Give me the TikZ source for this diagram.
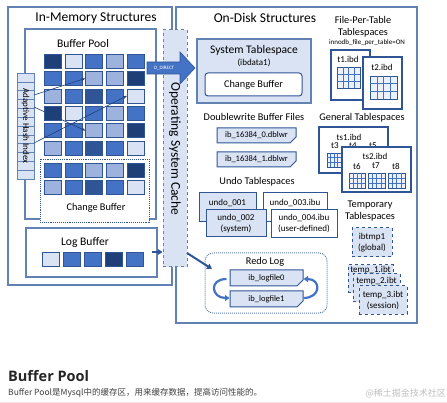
\documentclass[tikz,border=0pt]{standalone}
\usepackage[svgnames]{xcolor}
\usepackage{fontspec}
\setmainfont{Carlito}
\newfontfamily\cjk{Noto Sans CJK SC}
\newfontfamily\headfont{Open Sans}
\usepackage{tikz}
\usetikzlibrary{shapes.misc,arrows.meta}
\definecolor{navy}{HTML}{1F3F78}
\definecolor{pale}{HTML}{DAE3F3}
\definecolor{mid}{HTML}{4472C4}
\definecolor{soft}{HTML}{9DB3DE}
\definecolor{deep}{HTML}{2F5597}
\definecolor{frame}{HTML}{6382B4}
\tikzstyle{area}=[draw=frame,line width=1.2pt,inner sep=0pt]
\tikzstyle{maintitle}=[font=\fontsize{13.5}{14}\selectfont,inner sep=0pt]
\tikzstyle{boxtitle}=[font=\fontsize{11.6}{12}\selectfont,inner sep=0pt]
\tikzstyle{seclabel}=[font=\fontsize{10.3}{12}\selectfont,inner sep=0pt]
\tikzstyle{filelabel}=[font=\fontsize{9}{11}\selectfont,inner sep=0pt,align=center]
\tikzstyle{tinylabel}=[font=\fontsize{7}{8}\selectfont,inner sep=0pt]
\tikzstyle{bpcell}=[draw=deep,line width=0.5pt,minimum width=17pt,minimum height=14pt,inner sep=0pt]
\tikzstyle{dfile}=[chamfered rectangle,chamfered rectangle corners=south east,chamfered rectangle xsep=3pt,chamfered rectangle ysep=3pt,draw=deep,fill=pale,line width=1pt,inner sep=0pt,font=\fontsize{8.5}{10}\selectfont]
\tikzstyle{undobox}=[draw=deep,line width=1pt,inner sep=0pt,align=center,font=\fontsize{9}{11}\selectfont]
\tikzstyle{ibd}=[draw=deep,fill=white,line width=1.3pt,inner sep=0pt]
\tikzstyle{tmpfile}=[draw=deep,dashed,fill=pale,line width=1pt,inner sep=0pt,align=center,font=\fontsize{9}{11}\selectfont]
\tikzstyle{hashlink}=[navy,line width=0.6pt,-{Stealth[length=4pt,width=3pt]}]
\tikzstyle{bigarrow}=[deep,line width=2pt,-{Triangle[length=5pt,width=6pt]}]
\tikzstyle{cyclearrow}=[mid,line width=2.2pt,-{Triangle[length=4.5pt,width=6pt]}]
\newcommand{\tablegrid}[4]{%
  \draw[deep,fill=pale!50,line width=0.8pt] (#1,#2) rectangle ++(#3,#4);
  \foreach \k in {1,2,3} \draw[mid,line width=0.5pt] ({#1+#3*\k/4},#2) -- ++(0,#4);
  \foreach \k in {1,2} \draw[mid,line width=0.5pt] (#1,{#2+#4*\k/3}) -- ++(#3,0);
}

\begin{document}
\begin{tikzpicture}[x=1pt,y=-1pt]
\useasboundingbox (0,0) rectangle (447,403);
\fill[white] (0,0) rectangle (447,403);

% in-memory side
\node[area,minimum width=164pt,minimum height=278pt] (inmem) at (90,146) {};
\node[maintitle] (inmemtitle) at (96,18) {In-Memory Structures};
\node[area,minimum width=131pt,minimum height=190pt] (bufpool) at (90.5,124) {};
\node[boxtitle] (bufpooltitle) at (83,44) {Buffer Pool};
\node[draw=deep,densely dotted,fill=white,line width=0.9pt,minimum width=109pt,minimum height=63pt] (chbuf) at (94.5,190.5) {};
\node[seclabel] (chbuftitle) at (96,208) {Change Buffer};
\foreach \row/\y/\cols in {1/61/{navy,pale,mid,soft,mid}, 2/78.4/{mid,mid,soft,soft,navy},
    3/95.8/{soft,mid,deep,mid,pale}, 4/113.2/{navy,pale,mid,soft,mid},
    5/130.6/{mid,mid,soft,soft,navy}, 6/148/{soft,mid,deep,mid,pale},
    7/170/{mid,mid,soft,soft,navy}, 8/187.4/{soft,mid,deep,mid,pale}}
  \foreach \c [count=\col] in \cols
    \node[bpcell,fill=\c] (bp-\row-\col) at ({31.7+20.8*\col},\y) {};

% adaptive hash index
\node[draw=frame,fill=pale,line width=0.8pt,minimum width=17pt,minimum height=106pt,inner sep=0pt] (ahi) at (25.5,126) {};
\foreach \k in {1,...,11}
  \draw[frame,line width=0.4pt] (17,{73+8.833*\k}) -- ++(17,0);
\node[filelabel,rotate=-90] (ahitext) at (25.5,126) {Adaptive Hash Index};
\coordinate (h1) at (34,95);
\coordinate (h2) at (34,107);
\coordinate (h3) at (34,143);
\draw[hashlink] (h1) -- (bp-2-3.west);
\draw[hashlink] (h2) -- (bp-5-3.west);
\draw[hashlink] (h3) -- (bp-3-5.west);

% log buffer
\node[area,minimum width=131pt,minimum height=49pt] (logbuf) at (91.5,252.5) {};
\node[boxtitle] (logbuftitle) at (85,242) {Log Buffer};
\foreach \c [count=\col] in {pale,mid,mid,navy,mid}
  \node[bpcell,fill=\c] (lb-\col) at ({29.5+21*\col},259) {};

% on-disk side
\node[area,minimum width=241pt,minimum height=316pt] (ondisk) at (296.5,165) {};
\node[maintitle] (ondisktitle) at (265,18) {On-Disk Structures};

% os cache
\node[draw=frame,dashed,fill=pale,line width=1pt,minimum width=24pt,minimum height=237pt] (cache) at (175,148.5) {};
\node[maintitle,rotate=-90] (cachetext) at (175,149) {Operating System Cache};
\draw[fill=mid,draw=deep,line width=0.6pt] (147,62) -- (180,62) -- (180,52) -- (195,68) -- (180,84) -- (180,74) -- (147,74) -- cycle;
\node[inner sep=0pt,text=white,font=\fontsize{5}{6}\selectfont] (odirect) at (164,68) {O\_DIRECT};
\coordinate (lbout) at (152,252);
\draw[bigarrow,line width=1.5pt] (lbout) -- (lbout -| cache.west);

% system tablespace
\node[area,fill=pale,line width=1.3pt,minimum width=114pt,minimum height=64pt] (systs) at (254,71) {};
\node[boxtitle] (syststitle) at (254,50) {System Tablespace};
\node[filelabel] (ibdata) at (254,63) {(ibdata1)};
\node[seclabel,draw=deep,fill=white,rounded corners=3pt,line width=1pt,minimum width=97pt,minimum height=23pt] (syscb) at (253.5,84.5) {Change Buffer};

% doublewrite
\node[seclabel] (dwtitle) at (254,117) {Doublewrite Buffer Files};
\node[dfile,minimum width=79pt,minimum height=15pt] (dw0) at (256.5,135.5) {ib\_16384\_0.dblwr};
\node[dfile,minimum width=79pt,minimum height=15pt] (dw1) at (256.5,159.5) {ib\_16384\_1.dblwr};

% undo
\node[seclabel] (undotitle) at (257,182) {Undo Tablespaces};
\node[undobox,fill=pale,minimum width=57pt,minimum height=29pt] (undo1) at (227.5,207.5) {};
\node[filelabel] (undo1name) at (227.5,203) {undo\_001};
\node[undobox,fill=white,minimum width=64pt,minimum height=29pt] (undo3) at (295,207.5) {};
\node[filelabel] (undo3name) at (295,203) {undo\_003.ibu};
\node[undobox,fill=pale,minimum width=60pt,minimum height=27pt] (undo2) at (236,223.5) {undo\_002\\(system)};
\node[undobox,fill=white,minimum width=66pt,minimum height=28pt] (undo4) at (304,224) {undo\_004.ibu\\(user-defined)};

% redo
\node[draw=frame,densely dotted,rounded corners=8pt,line width=1pt,minimum width=122pt,minimum height=60pt] (redo) at (266,283) {};
\node[seclabel] (redotitle) at (265,262) {Redo Log};
\node[dfile,minimum width=73pt,minimum height=16pt] (lf0) at (266.5,278) {ib\_logfile0};
\node[dfile,minimum width=73pt,minimum height=16pt] (lf1) at (266.5,299) {ib\_logfile1};
\draw[cyclearrow] ([xshift=-3pt,yshift=-1pt]lf0.west) to[out=180,in=180,looseness=2.4] ([yshift=1pt]lf1.west);
\draw[cyclearrow] ([yshift=1pt]lf1.east) to[out=0,in=0,looseness=2.4] ([yshift=-1pt]lf0.east);
\coordinate (cacheout) at (187,253);
\coordinate (redoin) at (212,269);
\draw[bigarrow] (cacheout) -- (redoin);

% file-per-table
\node[seclabel] (fpt1) at (363,20) {File-Per-Table};
\node[seclabel] (fpt2) at (363,33) {Tablespaces};
\node[tinylabel] (fptopt) at (367,43) {innodb\_file\_per\_table=ON};
\node[ibd,minimum width=39pt,minimum height=50pt] (t1) at (350.5,75) {};
\node[filelabel] (t1name) at (348,59) {t1.ibd};
\tablegrid{337}{67}{23}{21}
\node[ibd,minimum width=39pt,minimum height=52pt] (t2) at (382.5,83) {};
\node[filelabel] (t2name) at (382,67) {t2.ibd};
\tablegrid{370}{76}{27}{23}

% general
\node[seclabel] (gentitle) at (362,118) {General Tablespaces};
\node[ibd,minimum width=69pt,minimum height=46pt] (ts1) at (353.5,150) {};
\node[filelabel] (ts1name) at (349,137) {ts1.ibd};
\foreach \place/\name in {(335,146)/t3, (353,146)/t4, (373,146)/t5}
  \node[filelabel] (\name) at \place {\name};
\tablegrid{327}{153}{14}{14}
\node[ibd,minimum width=69pt,minimum height=45pt] (ts2) at (376.5,169.5) {};
\node[filelabel] (ts2name) at (375,156) {ts2.ibd};
\foreach \place/\name in {(357,166)/t6, (376,166)/t7, (396,166)/t8}
  \node[filelabel] (\name) at \place {\name};
\tablegrid{349}{173}{16}{15}
\tablegrid{368}{173}{17}{15}
\tablegrid{388}{173}{17}{15}

% temporary
\node[seclabel] (tmptitle1) at (370,205) {Temporary};
\node[seclabel] (tmptitle2) at (370,217) {Tablespaces};
\node[tmpfile,minimum width=40pt,minimum height=29pt] (ibtmp) at (372,242.5) {ibtmp1\\(global)};
\node[tmpfile,minimum width=45pt,minimum height=28pt] (tmp1) at (370.5,279) {};
\node[filelabel] (tmp1name) at (370.5,270) {temp\_1.ibt};
\node[tmpfile,minimum width=47pt,minimum height=28pt] (tmp2) at (376.5,288) {};
\node[filelabel] (tmp2name) at (376.5,281) {temp\_2.ibt};
\node[tmpfile,minimum width=48pt,minimum height=28pt] (tmp3) at (383,300) {temp\_3.ibt\\(session)};

% caption below
\node[anchor=west,inner sep=0pt,text=black!85,font=\headfont\bfseries\fontsize{14.5}{16}\selectfont] (bphead) at (8,376) {Buffer Pool};
\node[anchor=west,inner sep=0pt,text=black!75,font=\cjk\fontsize{8.5}{10}\selectfont] (bptext) at (8,393) {Buffer Pool是Mysql中的缓存区，用来缓存数据，提高访问性能的。};
\node[anchor=east,inner sep=0pt,text=black!25,font=\cjk\fontsize{9}{10}\selectfont] (mark) at (446,393) {@稀土掘金技术社区};
\draw[red!12,line width=0.6pt] (0,402) -- (447,402);
\end{tikzpicture}
\end{document}
